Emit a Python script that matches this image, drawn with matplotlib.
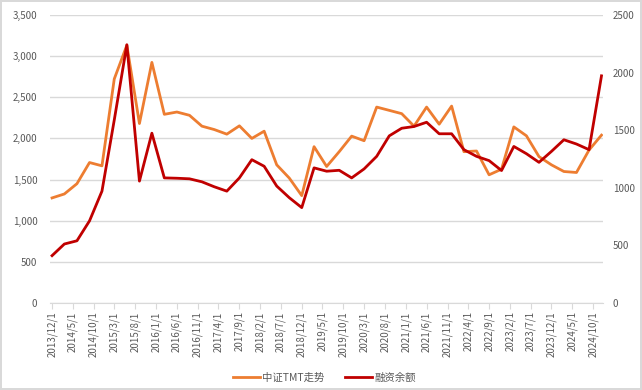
import pandas as pd
import matplotlib
matplotlib.use('Agg')
import matplotlib.pyplot as plt
from matplotlib.ticker import FuncFormatter, MultipleLocator

plt.rcParams['font.family'] = ['Noto Sans CJK SC', 'DejaVu Sans']

# quarterly observations, 2013/12 .. 2024/12
dates = pd.date_range('2013-12-01', periods=45, freq='3MS')

tmt = [1277, 1325, 1450, 1707, 1667, 2723, 3132, 2181, 2924, 2293,
       2321, 2281, 2149, 2108, 2052, 2153, 2000, 2088, 1679, 1518,
       1305, 1900, 1659, 1839, 2028, 1972, 2381, 2341, 2301, 2149,
       2381, 2173, 2393, 1839, 1847, 1558, 1626, 2140, 2032, 1779,
       1679, 1598, 1586, 1859, 2040]

margin = [411, 512, 540, 713, 971, 1589, 2242, 1058, 1474, 1086,
          1083, 1078, 1052, 1009, 971, 1086, 1244, 1187, 1015, 914,
          828, 1173, 1144, 1152, 1086, 1164, 1273, 1451, 1517, 1532,
          1569, 1469, 1469, 1331, 1273, 1236, 1150, 1359, 1296, 1221,
          1316, 1417, 1380, 1331, 1972]

# x tick labels every 5 months
tick_dates = pd.date_range('2013-12-01', '2024-10-01', freq='5MS')
tick_labels = [f'{d.year}/{d.month}/1' for d in tick_dates]

orange = '#ED7D31'
red = '#C00000'
grey = '#595959'

fig = plt.figure(figsize=(6.42, 3.9), dpi=100)
fig.patch.set_edgecolor('#D9D9D9')
fig.patch.set_linewidth(1.5)
ax = fig.add_axes([50 / 642, 1 - 303 / 390, 553 / 642, 288 / 390])
ax2 = ax.twinx()

l1, = ax.plot(dates, tmt, color=orange, lw=2, label='中证TMT走势')
l2, = ax2.plot(dates, margin, color=red, lw=2, label='融资余额')

ax.set_ylim(0, 3500)
ax.yaxis.set_major_locator(MultipleLocator(500))
ax.yaxis.set_major_formatter(FuncFormatter(lambda v, p: f'{int(v):,}'))
ax2.set_ylim(0, 2500)
ax2.yaxis.set_major_locator(MultipleLocator(500))
ax2.yaxis.set_major_formatter(FuncFormatter(lambda v, p: f'{int(v)}'))

ax.set_xlim(pd.Timestamp('2013-11-16'), pd.Timestamp('2024-12-12'))
ax.set_xticks(tick_dates)
ax.set_xticklabels(tick_labels, rotation=90)

ax.grid(axis='y', color='#D9D9D9', lw=1)
ax.set_axisbelow(True)
for a in (ax, ax2):
    for s in a.spines.values():
        s.set_visible(False)
ax.spines['bottom'].set_visible(True)
ax.spines['bottom'].set_color('#D9D9D9')

ax.tick_params(axis='y', length=0, pad=9, labelsize=7, labelcolor=grey)
ax2.tick_params(axis='y', length=0, pad=7, labelsize=7, labelcolor=grey)
ax.tick_params(axis='x', length=4, color='#D9D9D9', pad=2, labelsize=7,
               labelcolor=grey)

fig.legend(handles=[l1, l2], loc='center', bbox_to_anchor=(0.505, 1 - 378 / 390),
           ncol=2, frameon=False, fontsize=7.5, labelcolor=grey,
           handlelength=2.6, columnspacing=2.0, handletextpad=0.2)

fig.savefig('out.png', dpi=100)
